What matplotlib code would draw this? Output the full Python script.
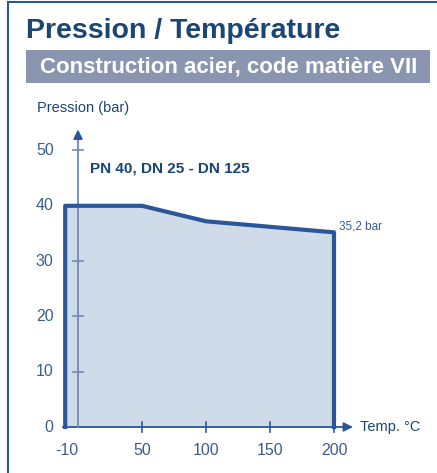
import matplotlib.pyplot as plt
from matplotlib.lines import Line2D
from matplotlib.patches import Rectangle

plt.rcParams['font.family'] = ['Liberation Sans', 'DejaVu Sans']

# curve data
temp = [-10, -10, 50, 100, 200, 200]
pressure = [0, 40, 40, 37.2, 35.2, 0]
x_ticks = [-10, 50, 100, 150, 200]
x_labels = ['-10', '50', '100', '150', '200']
y_ticks = [0, 10, 20, 30, 40, 50]

navy = '#1b4572'
line_blue = '#2b569a'
fill_blue = '#d0dbea'
axis_blue = '#7089ba'
label_blue = '#3b5e8c'

W, H = 437, 473
fig = plt.figure(figsize=(W / 100, H / 100), dpi=100)

# pixel -> data mapping: x px = 78 + 1.28*t, y px (from top) = 427 - 5.53*p
ax = fig.add_axes([0, 0, 1, 1])
ax.set_xlim(-78 / 1.28, (W - 78) / 1.28)
ax.set_ylim(-(H - 427) / 5.53, 427 / 5.53)
ax.axis('off')

# frame
fig.add_artist(Line2D([8 / W, 8 / W], [0, 1 - 2 / H], color='#2a5a8a', lw=1.5))
fig.add_artist(Line2D([8 / W, 1], [1 - 2 / H, 1 - 2 / H], color='#2a5a8a', lw=1.5))

# titles
fig.text(26 / W, 1 - 37.5 / H, 'Pression / Température', fontsize=20.5, fontweight='bold',
         color=navy, va='baseline', ha='left')
fig.add_artist(Rectangle((26 / W, 1 - 83 / H), 404 / W, 33 / H, transform=fig.transFigure,
                         facecolor='#8a96b0', edgecolor='none'))
fig.text(40 / W, 1 - 66.5 / H, 'Construction acier, code matière VII', fontsize=16,
         fontweight='bold', color='white', va='center', ha='left')

# filled curve
ax.fill(temp, pressure, color=fill_blue, zorder=1)

# axes
ax.plot([-12, 212], [0, 0], color=line_blue, lw=1.3, zorder=2)
ax.annotate('', xy=(217, 0), xytext=(205, 0),
            arrowprops=dict(arrowstyle='-|>', color=line_blue, lw=1.2, mutation_scale=14), zorder=2)
ax.plot([0, 0], [0, 52], color=axis_blue, lw=1.3, zorder=2)
ax.annotate('', xy=(0, 54.3), xytext=(0, 51.5),
            arrowprops=dict(arrowstyle='-|>', color=line_blue, lw=1.2, mutation_scale=14), zorder=2)

# ticks
for t in x_ticks[1:]:
    ax.plot([t, t], [-0.9, 0.9], color=line_blue, lw=1.2, zorder=2)
for p in y_ticks[1:]:
    ax.plot([-4, 4], [p, p], color=axis_blue, lw=1.2, zorder=2)

# curve outline
ax.plot(temp, pressure, color=line_blue, lw=3, solid_joinstyle='round', zorder=3)

# tick labels
for t, s in zip(x_ticks, x_labels):
    ax.text(t + 1.5 if t < 0 else t, -4.2, s, fontsize=11.5, color=label_blue,
            ha='center', va='center')
for p in y_ticks:
    ax.text(-19, p, str(p), fontsize=11.5, color=label_blue, ha='right', va='center')

# labels
ax.text(-32, 57.6, 'Pression (bar)', fontsize=10.5, color=navy, ha='left', va='center')
ax.text(220, 0, 'Temp. °C', fontsize=10.5, color=navy, ha='left', va='center')
ax.text(9.5, 46.7, 'PN 40, DN 25 - DN 125', fontsize=11, fontweight='bold', color=navy,
        ha='left', va='center')
ax.text(204, 36.2, '35,2 bar', fontsize=8.5, color=label_blue, ha='left', va='center')

fig.savefig('out.png', dpi=100)
